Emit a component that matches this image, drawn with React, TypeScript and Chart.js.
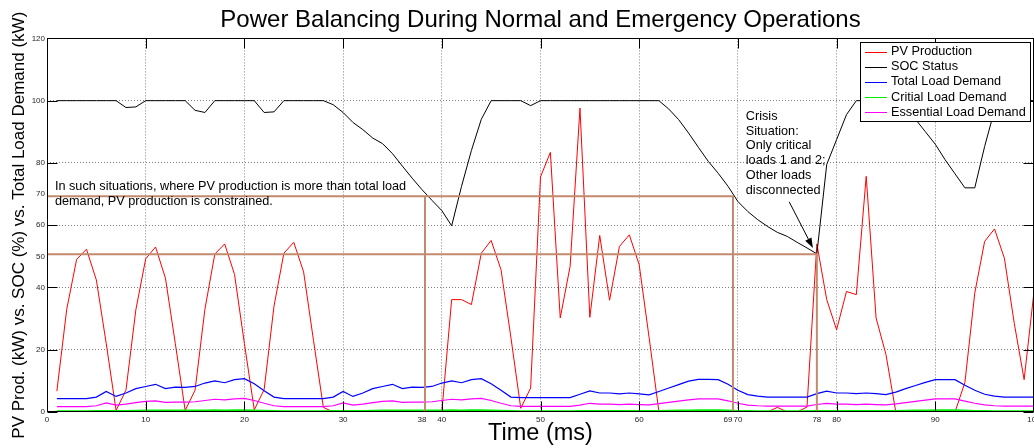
import React, { useEffect, useRef } from 'react';
import { Chart, registerables } from 'chart.js';

Chart.register(...registerables);

const FONT = "'Liberation Sans', Arial, Helvetica, sans-serif";

// ---------- data ----------
const time = [
  1, 2, 3, 4, 5, 6, 7, 8, 9, 10, 11, 12, 13, 14, 15, 16, 17, 18, 19, 20,
  21, 22, 23, 24, 25, 26, 27, 28, 29, 30, 31, 32, 33, 34, 35, 36, 37, 38, 39, 40,
  41, 42, 43, 44, 45, 46, 47, 48, 49, 50, 51, 52, 53, 54, 55, 56, 57, 58, 59, 60,
  61, 62, 63, 64, 65, 66, 67, 68, 69, 70, 71, 72, 73, 74, 75, 76, 77, 78, 79, 80,
  81, 82, 83, 84, 85, 86, 87, 88, 89, 90, 91, 92, 93, 94, 95, 96, 97, 98, 99, 100,
];

const pvProduction = [
  6.7, 33, 49, 52.3, 42.4, 22, 0.5, 7, 32.8, 49.2,
  53, 43, 22, 0.5, 7, 33, 50.7, 54, 44.2, 22,
  0.7, 7.2, 34, 51, 54.5, 45, 23, 1.5, 0, 0,
  0, 0, 0, 0, 0, 0, 0, 0, 0, 0,
  36.1, 36.1, 34.5, 51, 55.1, 45.7, 24, 1.2, 7.7, 75.5,
  83.4, 30.2, 46.8, 97.6, 30.4, 56.7, 35.9, 53.2, 56.9, 47.3,
  24, 0, 0, 0, 0, 0, 0, 0, 0, 0,
  0, 0, 0, 1.5, 0, 0, 1.6, 54, 36.1, 26.4,
  38.7, 37.7, 75.7, 30.2, 18.5, 0, 0, 0, 0, 0,
  0, 0, 9.5, 38.2, 54.8, 58.8, 49.4, 28.5, 10.4, 38.7,
];

const socStatus = [
  100, 100, 100, 100, 100, 100, 100, 97.8, 98, 100,
  100, 100, 100, 100, 96.9, 96.2, 100, 100, 100, 100,
  100, 96.2, 96.4, 100, 100, 100, 100, 100, 98.7, 96.2,
  93, 90.7, 88, 86.2, 83, 79, 75.1, 71.4, 68, 64.7,
  59.8, 72.5, 84, 94, 100, 100, 100, 100, 98.4, 100,
  100, 100, 100, 100, 100, 100, 100, 100, 100, 100,
  100, 100, 97.3, 93.9, 89.6, 85, 80.5, 76.7, 72.5, 67.6,
  64.4, 61.8, 59.6, 57.7, 56.4, 54.5, 52.7, 50.8, 79.5, 87.5,
  95.5, 100, 100, 100, 100, 99, 97, 94, 90, 86,
  81, 76.5, 72, 72, 85.3, 97, 100, 100, 100, 100,
];

const totalLoadDemand = [
  4.3, 4.3, 4.3, 4.3, 4.8, 6.6, 5.0, 6.1, 7.5, 8.2,
  8.9, 7.5, 8.0, 7.9, 8.2, 9.3, 10.0, 9.4, 10.4, 10.7,
  9.1, 6.8, 4.8, 4.3, 4.3, 4.3, 4.3, 4.3, 4.8, 6.6,
  5.0, 6.1, 7.5, 8.2, 8.9, 7.5, 8.0, 7.9, 8.2, 9.3,
  10.0, 9.4, 10.4, 10.7, 9.1, 7.0, 4.8, 4.6, 4.6, 4.6,
  4.6, 4.6, 4.6, 5.7, 6.8, 6.1, 6.1, 5.8, 6.1, 5.8,
  5.5, 6.6, 7.7, 8.8, 9.9, 10.5, 10.5, 10.4, 8.9, 7.0,
  5.6, 5.1, 4.8, 4.8, 4.8, 4.8, 4.8, 5.9, 6.7, 6.1,
  6.1, 5.9, 6.1, 5.9, 5.6, 6.4, 7.5, 8.5, 9.5, 10.4,
  10.4, 10.4, 8.6, 7.0, 5.7, 5.1, 4.8, 4.8, 4.8, 4.8,
];

const criticalLoadDemand = [
  0.25, 0.25, 0.25, 0.25, 0.3, 0.35, 0.3, 0.35, 0.4, 0.45,
  0.5, 0.45, 0.45, 0.45, 0.45, 0.5, 0.55, 0.5, 0.55, 0.6,
  0.5, 0.4, 0.3, 0.25, 0.25, 0.25, 0.25, 0.25, 0.3, 0.35,
  0.3, 0.35, 0.4, 0.45, 0.5, 0.45, 0.45, 0.45, 0.45, 0.5,
  0.55, 0.5, 0.55, 0.6, 0.5, 0.4, 0.3, 0.25, 0.25, 0.25,
  0.25, 0.25, 0.25, 0.3, 0.35, 0.3, 0.3, 0.3, 0.3, 0.3,
  0.3, 0.35, 0.4, 0.45, 0.5, 0.55, 0.55, 0.55, 0.45, 0.35,
  0.3, 0.25, 0.25, 0.25, 0.25, 0.25, 0.25, 0.3, 0.35, 0.3,
  0.3, 0.3, 0.3, 0.3, 0.3, 0.35, 0.4, 0.45, 0.5, 0.55,
  0.55, 0.55, 0.45, 0.35, 0.3, 0.25, 0.25, 0.25, 0.25, 0.25,
];

const essentialLoadDemand = [
  1.7, 1.7, 1.7, 1.7, 2.0, 2.9, 2.2, 2.5, 3.0, 3.4,
  3.6, 3.1, 3.2, 3.2, 3.3, 3.7, 4.1, 3.9, 4.2, 4.4,
  3.7, 2.8, 2.0, 1.7, 1.7, 1.7, 1.7, 1.7, 2.0, 2.9,
  2.2, 2.5, 3.0, 3.4, 3.6, 3.1, 3.2, 3.2, 3.3, 3.7,
  4.1, 3.9, 4.2, 4.4, 3.7, 2.8, 2.0, 1.8, 1.8, 1.8,
  1.8, 1.8, 1.8, 2.2, 2.8, 2.5, 2.5, 2.4, 2.5, 2.4,
  2.3, 2.7, 3.1, 3.5, 3.9, 4.2, 4.2, 4.2, 3.6, 2.8,
  2.2, 2.0, 1.9, 1.9, 1.9, 1.9, 1.9, 2.4, 2.8, 2.5,
  2.5, 2.4, 2.5, 2.4, 2.3, 2.6, 3.0, 3.4, 3.8, 4.2,
  4.2, 4.2, 3.5, 2.8, 2.3, 2.0, 1.9, 1.9, 1.9, 1.9,
];

// constraint marker lines (brown)
const limit70X = [0, 69.5, 69.5];
const limit70Y = [69.3, 69.3, 0];
const cross38X = [38.3, 38.3];
const cross38Y = [69.3, 0];
const limit50X = [0, 78, 78];
const limit50Y = [50.7, 50.7, 0];

// extra hand-placed tick labels
const extraXTickLabels = [38, 69, 78];
const extraYTickLabels = [50, 70];

const seriesLabels = [
  'PV Production',
  'SOC Status',
  'Total Load Demand',
  'Critial Load Demand',
  'Essential Load Demand',
];

const noteLines = [
  'In such situations, where PV production is more than total load',
  'demand, PV production is constrained.',
];
const crisisLines = [
  'Crisis',
  'Situation:',
  'Only critical',
  'loads 1 and 2;',
  'Other loads',
  'disconnected',
];

// ---------- helpers ----------
const pts = (ys: number[]) => time.map((t, i) => ({ x: t, y: ys[i] }));
const pairPts = (xs: number[], ys: number[]) => xs.map((x, i) => ({ x, y: ys[i] }));

const BROWN = '#c38b6d';
const TICK_FONT = `8px ${FONT}`;
const TICK_COLOR = '#262626';
const TEXT_FONT = `12.7px ${FONT}`;

const overlayPlugin = {
  id: 'overlay',
  afterDraw(chart: any) {
    const { ctx, chartArea: a, scales } = chart;
    const xs = scales.x;
    const ys = scales.y;
    const L = Math.floor(a.left) + 0.5;
    const R = Math.ceil(a.right) - 0.5;
    const T = Math.floor(a.top) + 0.5;
    const B = Math.ceil(a.bottom) - 0.5;
    const TICK = 10;

    ctx.save();
    // frame and inward ticks
    ctx.strokeStyle = '#000';
    ctx.lineWidth = 1;
    ctx.strokeRect(L, T, R - L, B - T);
    ctx.beginPath();
    xs.ticks.forEach((t: any) => {
      const x = Math.round(xs.getPixelForValue(t.value)) + 0.5;
      ctx.moveTo(x, B);
      ctx.lineTo(x, B - TICK);
      ctx.moveTo(x, T);
      ctx.lineTo(x, T + TICK);
    });
    ys.ticks.forEach((t: any) => {
      const y = Math.round(ys.getPixelForValue(t.value)) + 0.5;
      ctx.moveTo(L, y);
      ctx.lineTo(L + TICK, y);
      ctx.moveTo(R, y);
      ctx.lineTo(R - TICK, y);
    });
    ctx.stroke();

    // extra tick labels
    ctx.font = TICK_FONT;
    ctx.fillStyle = TICK_COLOR;
    ctx.textAlign = 'center';
    ctx.textBaseline = 'middle';
    extraXTickLabels.forEach((v) => {
      ctx.fillText(String(v), xs.getPixelForValue(v), a.bottom + 7.6);
    });
    ctx.textAlign = 'right';
    extraYTickLabels.forEach((v) => {
      ctx.fillText(String(v), a.left - 2, ys.getPixelForValue(v));
    });

    // annotation texts
    ctx.font = TEXT_FONT;
    ctx.fillStyle = '#000';
    ctx.textAlign = 'left';
    ctx.textBaseline = 'alphabetic';
    const nx = xs.getPixelForValue(0.8);
    const ny = ys.getPixelForValue(71.3);
    noteLines.forEach((s, i) => ctx.fillText(s, nx, ny + i * 15));
    const cx = xs.getPixelForValue(70.8);
    const cy = ys.getPixelForValue(93.8);
    crisisLines.forEach((s, i) => ctx.fillText(s, cx, cy + i * 14.75));

    // arrow
    const ax0 = xs.getPixelForValue(75.2);
    const ay0 = ys.getPixelForValue(67.5);
    const ax1 = xs.getPixelForValue(77.6);
    const ay1 = ys.getPixelForValue(52.7);
    const ang = Math.atan2(ay1 - ay0, ax1 - ax0);
    const hl = 10;
    const hw = 3.5;
    const bx = ax1 - hl * Math.cos(ang);
    const by = ay1 - hl * Math.sin(ang);
    ctx.strokeStyle = '#000';
    ctx.lineWidth = 1;
    ctx.beginPath();
    ctx.moveTo(ax0, ay0);
    ctx.lineTo(bx, by);
    ctx.stroke();
    ctx.beginPath();
    ctx.moveTo(ax1, ay1);
    ctx.lineTo(bx + hw * Math.sin(ang), by - hw * Math.cos(ang));
    ctx.lineTo(bx - hw * Math.sin(ang), by + hw * Math.cos(ang));
    ctx.closePath();
    ctx.fillStyle = '#000';
    ctx.fill();

    // legend
    const items = chart.data.datasets.filter((d: any) => d.label);
    const lx = 860.5;
    const ly = 42.5;
    const lw = 170;
    const lh = 79;
    ctx.fillStyle = '#fff';
    ctx.fillRect(lx, ly, lw, lh);
    ctx.strokeStyle = '#000';
    ctx.lineWidth = 1;
    ctx.strokeRect(lx, ly, lw, lh);
    ctx.font = TEXT_FONT;
    ctx.textBaseline = 'middle';
    ctx.textAlign = 'left';
    items.forEach((d: any, i: number) => {
      const y = 51.5 + i * 15.2;
      ctx.strokeStyle = d.borderColor;
      ctx.lineWidth = 1;
      ctx.beginPath();
      ctx.moveTo(865, Math.round(y) + 0.5);
      ctx.lineTo(887, Math.round(y) + 0.5);
      ctx.stroke();
      ctx.fillStyle = '#000';
      ctx.fillText(d.label, 891, y);
    });
    ctx.restore();
  },
};

function makeSeries(label: string, data: number[], color: string, width: number, order: number) {
  return {
    label,
    data: pts(data),
    borderColor: color,
    backgroundColor: color,
    borderWidth: width,
    pointRadius: 0,
    tension: 0,
    fill: false,
    order,
  };
}

function makeMarker(xs: number[], ys: number[]) {
  return {
    label: '',
    data: pairPts(xs, ys),
    borderColor: BROWN,
    backgroundColor: BROWN,
    borderWidth: 2,
    pointRadius: 0,
    tension: 0,
    fill: false,
    order: 0,
  };
}

export default function App() {
  const ref = useRef<HTMLCanvasElement>(null);

  useEffect(() => {
    document.body.style.margin = '0';
    const gridColor = (c: any) =>
      c.tick && (c.tick.value === c.scale.min || c.tick.value === c.scale.max)
        ? 'rgba(0,0,0,0)'
        : 'rgba(0,0,0,0.5)';

    const chart = new Chart(ref.current as HTMLCanvasElement, {
      type: 'line',
      data: {
        datasets: [
          makeSeries(seriesLabels[0], pvProduction, '#ff0000', 1, 5),
          makeSeries(seriesLabels[1], socStatus, '#000000', 1, 4),
          makeSeries(seriesLabels[2], totalLoadDemand, '#0000ff', 1.2, 3),
          makeSeries(seriesLabels[3], criticalLoadDemand, '#00f000', 2, 2),
          makeSeries(seriesLabels[4], essentialLoadDemand, '#ff00ff', 1.2, 1),
          makeMarker(limit70X, limit70Y),
          makeMarker(cross38X, cross38Y),
          makeMarker(limit50X, limit50Y),
        ] as any,
      },
      options: {
        responsive: false,
        animation: false,
        devicePixelRatio: 1,
        layout: { padding: 0 },
        plugins: {
          legend: { display: false },
          tooltip: { enabled: false },
          title: {
            display: true,
            text: 'Power Balancing During Normal and Emergency Operations',
            fullSize: false,
            color: '#000',
            font: { family: FONT, size: 24, weight: 'normal' },
            padding: { top: 6, bottom: 3.6 },
          },
        },
        scales: {
          x: {
            type: 'linear',
            min: 0,
            max: 100,
            ticks: {
              stepSize: 10,
              autoSkip: false,
              maxRotation: 0,
              padding: 3,
              color: TICK_COLOR,
              font: { family: FONT, size: 8 },
            },
            grid: { color: gridColor, lineWidth: 1, drawTicks: false },
            border: { display: false, dash: [1, 2] },
            title: {
              display: true,
              text: 'Time (ms)',
              color: '#000',
              font: { family: FONT, size: 23.5 },
              padding: { top: 0, bottom: 0 },
            },
            afterFit: (s: any) => {
              s.height = 36;
              s.paddingLeft = 0;
              s.paddingRight = 0;
            },
          },
          y: {
            type: 'linear',
            min: 0,
            max: 120,
            ticks: {
              stepSize: 20,
              padding: 2,
              color: TICK_COLOR,
              font: { family: FONT, size: 8 },
            },
            grid: { color: gridColor, lineWidth: 1, drawTicks: false },
            border: { display: false, dash: [1, 2] },
            title: {
              display: true,
              text: 'PV Prod. (kW) vs. SOC (%) vs. Total Load Demand (kW)',
              color: '#000',
              font: { family: FONT, size: 17 },
              padding: { top: 9, bottom: 0 },
            },
            afterFit: (s: any) => {
              s.width = 47;
              s.paddingTop = 0;
              s.paddingBottom = 0;
            },
          },
        },
      } as any,
      plugins: [overlayPlugin],
    });
    return () => chart.destroy();
  }, []);

  return (
    <canvas
      ref={ref}
      width={1034}
      height={448}
      style={{ display: 'block', width: '1034px', height: '448px' }}
    />
  );
}
